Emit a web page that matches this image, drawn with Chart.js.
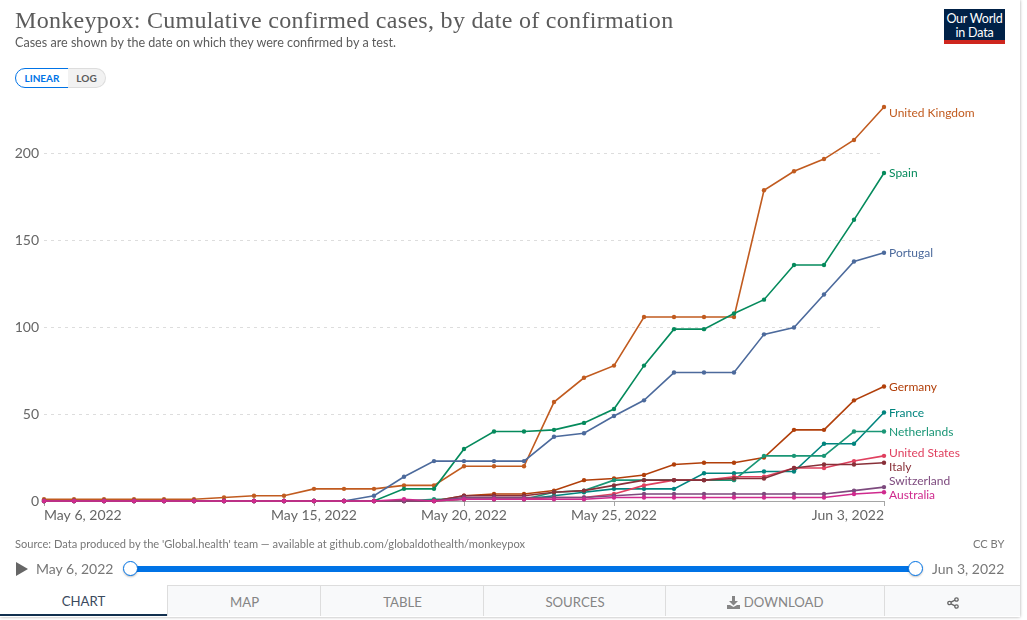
<!DOCTYPE html>
<html>
<head>
<meta charset="utf-8">
<title>Monkeypox: Cumulative confirmed cases</title>
<script src="https://cdn.jsdelivr.net/npm/chart.js@4/dist/chart.umd.min.js"></script>
<style>
  html, body { margin: 0; padding: 0; background: #fff; overflow: hidden; }
  body { width: 1027px; height: 620px; position: relative; font-family: Lato, sans-serif; color: #5b5b5b; }
  #mychart { position: absolute; left: 0; top: 0; }
  .abs { position: absolute; white-space: nowrap; }
  #card { position: absolute; left: 0; top: 0; width: 1020px; height: 617px; box-shadow: 0 0 3px rgba(0,0,0,.35); }
  #title { left: 15px; top: 7px; font: 24px "Liberation Serif", serif; color: #5b5b5b; letter-spacing: .3px; }
  #subtitle { left: 15px; top: 35px; font-size: 12.6px; color: #5b5b5b; }
  #logo { left: 944px; top: 9px; width: 61px; height: 31px; background: #002147; border-bottom: 4px solid #ce261e; color: #fff; font-size: 12.5px; letter-spacing: -.2px; line-height: 14px; text-align: center; padding-top: 3px; height: 28px; }
  #linear { left: 15px; top: 68px; width: 52px; height: 18px; border: 1px solid #0073e6; border-radius: 10px 0 0 10px; color: #0073e6; font-size: 10px; font-weight: bold; line-height: 19px; text-align: center; background: #fff; }
  #log { left: 68px; top: 68px; width: 37px; height: 18px; border: 1px solid #ddd; border-left: 0; border-radius: 0 10px 10px 0; color: #5b5b5b; font-size: 10px; font-weight: bold; line-height: 19px; text-align: center; background: #f2f2f2; }
  #source { left: 15px; top: 537px; font-size: 11.1px; color: #777; }
  #ccby { left: 973px; top: 537px; font-size: 11.1px; color: #777; }
  #play { left: 16px; top: 562px; width: 0; height: 0; border-left: 12px solid #666; border-top: 7px solid transparent; border-bottom: 7px solid transparent; }
  .date { top: 560px; font-size: 14px; color: #777; }
  #track { left: 130px; top: 566px; width: 785px; height: 6px; background: #0073e6; }
  .handle { top: 561px; width: 13px; height: 13px; border: 1.5px solid #0073e6; border-radius: 50%; background: #fff; box-shadow: 0 1px 2px rgba(0,0,0,.25); }
  .tab { top: 585px; height: 31px; line-height: 33px; text-align: center; font-size: 13.2px; color: #858585; background: #f8f9fa; border-top: 1px solid #ddd; border-left: 1px solid #ddd; box-sizing: border-box; }
  #tabChart { background: #fff; border-top: 0; border-left: 0; color: #3b4a5e; border-bottom: 2px solid #12304f; }
</style>
</head>
<body>
<div id="card"></div>
<canvas id="mychart" width="1027" height="620"></canvas>
<div class="abs" id="title">Monkeypox: Cumulative confirmed cases, by date of confirmation</div>
<div class="abs" id="subtitle">Cases are shown by the date on which they were confirmed by a test.</div>
<div class="abs" id="logo">Our World<br>in Data</div>
<div class="abs" id="linear">LINEAR</div>
<div class="abs" id="log">LOG</div>
<div class="abs" id="source">Source: Data produced by the 'Global.health' team — available at github.com/globaldothealth/monkeypox</div>
<div class="abs" id="ccby">CC BY</div>
<div class="abs" id="play"></div>
<div class="abs date" style="left:36px">May 6, 2022</div>
<div class="abs" id="track"></div>
<div class="abs handle" style="left:123px"></div>
<div class="abs handle" style="left:908px"></div>
<div class="abs date" style="left:932px">Jun 3, 2022</div>
<div class="abs tab" id="tabChart" style="left:0;width:167px">CHART</div>
<div class="abs tab" style="left:167px;width:154px">MAP</div>
<div class="abs tab" style="left:320px;width:164px">TABLE</div>
<div class="abs tab" style="left:483px;width:183px">SOURCES</div>
<div class="abs tab" style="left:665px;width:220px">
  <svg width="13" height="13" viewBox="0 0 13 13" style="vertical-align:-2px"><path fill="#858585" d="M5 0h3v5h3L6.5 9.5 2 5h3zM0 9h3l3.5 2L10 9h3v4H0z"/></svg> DOWNLOAD
</div>
<div class="abs tab" style="left:884px;width:136px">
  <svg width="12" height="12" viewBox="0 0 12 12" style="vertical-align:-2px"><g fill="none" stroke="#666" stroke-width="1.3"><circle cx="2.5" cy="6" r="1.7"/><circle cx="9.5" cy="2.5" r="1.7"/><circle cx="9.5" cy="9.5" r="1.7"/><path d="M4 5.2l4-2M4 6.8l4 2"/></g></svg>
</div>

<script>
// dates, one per day
const days = ['May 6, 2022','May 7, 2022','May 8, 2022','May 9, 2022','May 10, 2022','May 11, 2022','May 12, 2022','May 13, 2022','May 14, 2022','May 15, 2022','May 16, 2022','May 17, 2022','May 18, 2022','May 19, 2022','May 20, 2022','May 21, 2022','May 22, 2022','May 23, 2022','May 24, 2022','May 25, 2022','May 26, 2022','May 27, 2022','May 28, 2022','May 29, 2022','May 30, 2022','May 31, 2022','Jun 1, 2022','Jun 2, 2022','Jun 3, 2022'];
const xTickLabels = ['May 6, 2022','May 15, 2022','May 20, 2022','May 25, 2022','Jun 3, 2022'];
const yTickValues = [0, 50, 100, 150, 200];

const unitedKingdom = [1,1,1,1,1,1,2,3,3,7,7,7,9,9,20,20,20,57,71,78,106,106,106,106,179,190,197,208,227];
const spain         = [0,0,0,0,0,0,0,0,0,0,0,0,7,7,30,40,40,41,45,53,78,99,99,108,116,136,136,162,189];
const portugal      = [0,0,0,0,0,0,0,0,0,0,0,3,14,23,23,23,23,37,39,49,58,74,74,74,96,100,119,138,143];
const germany       = [0,0,0,0,0,0,0,0,0,0,0,0,0,0,3,4,4,6,12,13,15,21,22,22,25,41,41,58,66];
const france        = [0,0,0,0,0,0,0,0,0,0,0,0,0,0,1,1,1,3,5,7,7,7,16,16,17,17,33,33,51];
const netherlands   = [0,0,0,0,0,0,0,0,0,0,0,0,0,1,1,1,1,5,6,12,12,12,12,12,26,26,26,40,40];
const unitedStates  = [0,0,0,0,0,0,0,0,0,0,0,0,0,0,1,1,1,2,2,4,9,12,12,14,14,19,19,23,26];
const italy         = [0,0,0,0,0,0,0,0,0,0,0,0,0,0,3,3,3,5,6,9,12,12,12,13,13,19,21,21,22];
const switzerland   = [0,0,0,0,0,0,0,0,0,0,0,0,0,0,2,2,2,2,2,3,4,4,4,4,4,4,4,6,8];
const australia     = [0,0,0,0,0,0,0,0,0,0,0,0,1,0,1,1,1,1,1,2,2,2,2,2,2,2,2,4,5];

const seriesNames = ['United Kingdom','Spain','Portugal','Germany','France','Netherlands','United States','Italy','Switzerland','Australia'];
const seriesValues = [unitedKingdom, spain, portugal, germany, france, netherlands, unitedStates, italy, switzerland, australia];
const seriesColors = ['#c15b1f','#058a5c','#4c6a9c','#b13f0a','#00847e','#1a9676','#e0405f','#883039','#7d4a7e','#cf2a8e'];
// end labels get moved a bit so they dont overlap
const labelNudge = [6, 0, 0, 1, 1, 1, -3, 4, -6, 3];

// chart.js paints the first dataset last, so reverse to keep Australia on top
const datasets = seriesNames.map(function(name, i) {
  return {
    label: name,
    data: seriesValues[i],
    borderColor: seriesColors[i],
    backgroundColor: seriesColors[i],
    borderWidth: 1.6,
    pointRadius: 2.2,
    pointBorderWidth: 0,
    pointHoverRadius: 2,
    tension: 0,
    clip: false,
    nudge: labelNudge[i]
  };
}).reverse();

const endLabels = {
  id: 'endLabels',
  afterDatasetsDraw: function(chart) {
    const ctx = chart.ctx;
    ctx.save();
    ctx.font = '12px Lato';
    ctx.textBaseline = 'middle';
    chart.data.datasets.forEach(function(ds) {
      const last = ds.data[ds.data.length - 1];
      ctx.fillStyle = ds.borderColor;
      ctx.fillText(ds.label, chart.scales.x.right + 5, chart.scales.y.getPixelForValue(last) + ds.nudge);
    });
    ctx.restore();
  }
};

let mychart = document.getElementById('mychart').getContext('2d');
let massPopChart = new Chart(mychart, {
  type: 'line',
  data: { labels: days, datasets: datasets },
  plugins: [endLabels],
  options: {
    responsive: false,
    animation: false,
    events: [],
    layout: { padding: { top: 107, right: 143, bottom: 89, left: 0 } },
    plugins: { legend: { display: false }, tooltip: { enabled: false } },
    scales: {
      x: {
        type: 'category',
        offset: false,
        afterBuildTicks: function(scale) {
          scale.ticks = scale.ticks.filter(function(t) { return xTickLabels.indexOf(days[t.value]) >= 0; });
        },
        afterFit: function(scale) { scale.height = 30; },
        border: { color: '#a5a5a5' },
        grid: { drawOnChartArea: false, color: '#a5a5a5', tickLength: 5 },
        ticks: {
          autoSkip: false,
          maxRotation: 0,
          align: 'inner',
          padding: 1,
          color: '#666',
          font: { family: 'Lato', size: 14 },
          callback: function(v) { return days[v]; }
        }
      },
      y: {
        min: 0,
        max: 227,
        afterBuildTicks: function(scale) {
          scale.ticks = yTickValues.map(function(v) { return { value: v }; });
        },
        afterFit: function(scale) { scale.width = 44; },
        border: { display: false, dash: [3, 4] },
        grid: {
          drawTicks: false,
          color: function(c) { return c.tick.value === 0 ? 'transparent' : '#dddddd'; }
        },
        ticks: {
          padding: 5,
          color: '#666',
          font: { family: 'Lato', size: 14 }
        }
      }
    }
  }
});
</script>
</body>
</html>
